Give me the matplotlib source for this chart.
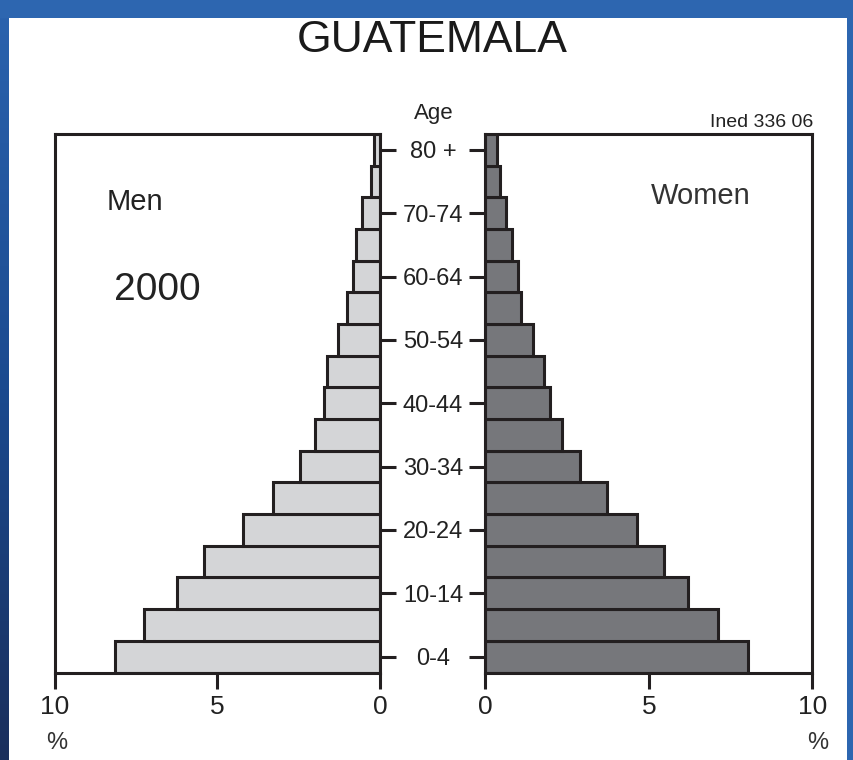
import numpy as np
import matplotlib
matplotlib.use('Agg')
import matplotlib.pyplot as plt
from matplotlib.patches import Rectangle
from matplotlib.transforms import blended_transform_factory

plt.rcParams['font.family'] = ['Liberation Sans', 'DejaVu Sans']

# age groups, youngest first
age_groups = ['0-4', '5-9', '10-14', '15-19', '20-24', '25-29', '30-34', '35-39',
              '40-44', '45-49', '50-54', '55-59', '60-64', '65-69', '70-74', '75-79', '80 +']
men = [8.16, 7.26, 6.24, 5.42, 4.21, 3.30, 2.46, 2.00, 1.73, 1.64, 1.30, 1.02,
       0.84, 0.75, 0.56, 0.29, 0.18]
women = [8.04, 7.11, 6.20, 5.46, 4.64, 3.72, 2.89, 2.35, 1.97, 1.80, 1.46, 1.09,
         1.00, 0.82, 0.63, 0.44, 0.36]
x_ticks = [0, 5, 10]

W, H = 854, 760
fig = plt.figure(figsize=(W / 100, H / 100), dpi=100)
fig.patch.set_facecolor('white')

# slide frame (blue band on top, strips on the sides)
fig.patches.append(Rectangle((0, 1 - 18 / H), 1, 18 / H, transform=fig.transFigure,
                             facecolor='#2d66b0', edgecolor='none', zorder=0))
fig.patches.append(Rectangle((847 / W, 0), 7 / W, 1, transform=fig.transFigure,
                             facecolor='#2d66b0', edgecolor='none', zorder=0))
grad_ax = fig.add_axes([0, 0, 9 / W, 1 - 18 / H])
grad = np.linspace(0, 1, 256).reshape(-1, 1)
cmap = matplotlib.colors.LinearSegmentedColormap.from_list('frame', ['#1a2f5c', '#1b4a8f', '#2a62ad'])
grad_ax.imshow(grad, aspect='auto', cmap=cmap, origin='lower')
grad_ax.axis('off')

ink = '#231f20'
lw = 2.2
y = np.arange(len(age_groups))

ax_m = fig.add_axes([55 / W, 1 - 672.5 / H, 325 / W, 538.5 / H])
ax_w = fig.add_axes([485.5 / W, 1 - 672.5 / H, 327 / W, 538.5 / H])

ax_m.barh(y, men, height=1.0, color='#d4d5d7', edgecolor=ink, linewidth=lw)
ax_w.barh(y, women, height=1.0, color='#76777b', edgecolor=ink, linewidth=lw)

for ax in (ax_m, ax_w):
    ax.set_ylim(-0.5, len(age_groups) - 0.5)
    ax.set_xticks(x_ticks)
    ax.set_xticklabels([str(t) for t in x_ticks])
    ax.set_yticks(y[::2])
    ax.set_yticklabels([])
    for s in ax.spines.values():
        s.set_linewidth(lw)
        s.set_color(ink)
    ax.tick_params(axis='x', direction='out', length=11.5, width=lw, color=ink,
                   labelsize=19, pad=5, labelcolor='#222222')
    ax.tick_params(axis='y', direction='out', length=11.5, width=lw, color=ink)

ax_m.set_xlim(10, 0)
ax_w.set_xlim(0, 10)
ax_m.yaxis.tick_right()
ax_w.yaxis.tick_left()

# age labels in the gap between the two panels
tr = blended_transform_factory(fig.transFigure, ax_m.transData)
for i in y[::2]:
    fig.text(433 / W, i, age_groups[i], transform=tr, ha='center', va='center_baseline',
             fontsize=17, color='#222222')

fig.text(434 / W, 1 - 119 / H, 'Age', ha='center', va='baseline', fontsize=16, color='#222222')
fig.text(432 / W, 1 - 52 / H, 'GUATEMALA', ha='center', va='baseline', fontsize=32, color='#1a1a1a')
fig.text(813 / W, 1 - 127 / H, 'Ined 336 06', ha='right', va='baseline', fontsize=14, color='#222222')
fig.text(135 / W, 1 - 210 / H, 'Men', ha='center', va='baseline', fontsize=21, color='#222222')
fig.text(157 / W, 1 - 300 / H, '2000', ha='center', va='baseline', fontsize=28, color='#222222')
fig.text(701 / W, 1 - 204 / H, 'Women', ha='center', va='baseline', fontsize=21, color='#333333')
fig.text(57 / W, 1 - 743 / H, '%', ha='center', va='center', fontsize=17, color='#333333')
fig.text(818 / W, 1 - 743 / H, '%', ha='center', va='center', fontsize=17, color='#333333')

fig.savefig('out.png', dpi=100)
